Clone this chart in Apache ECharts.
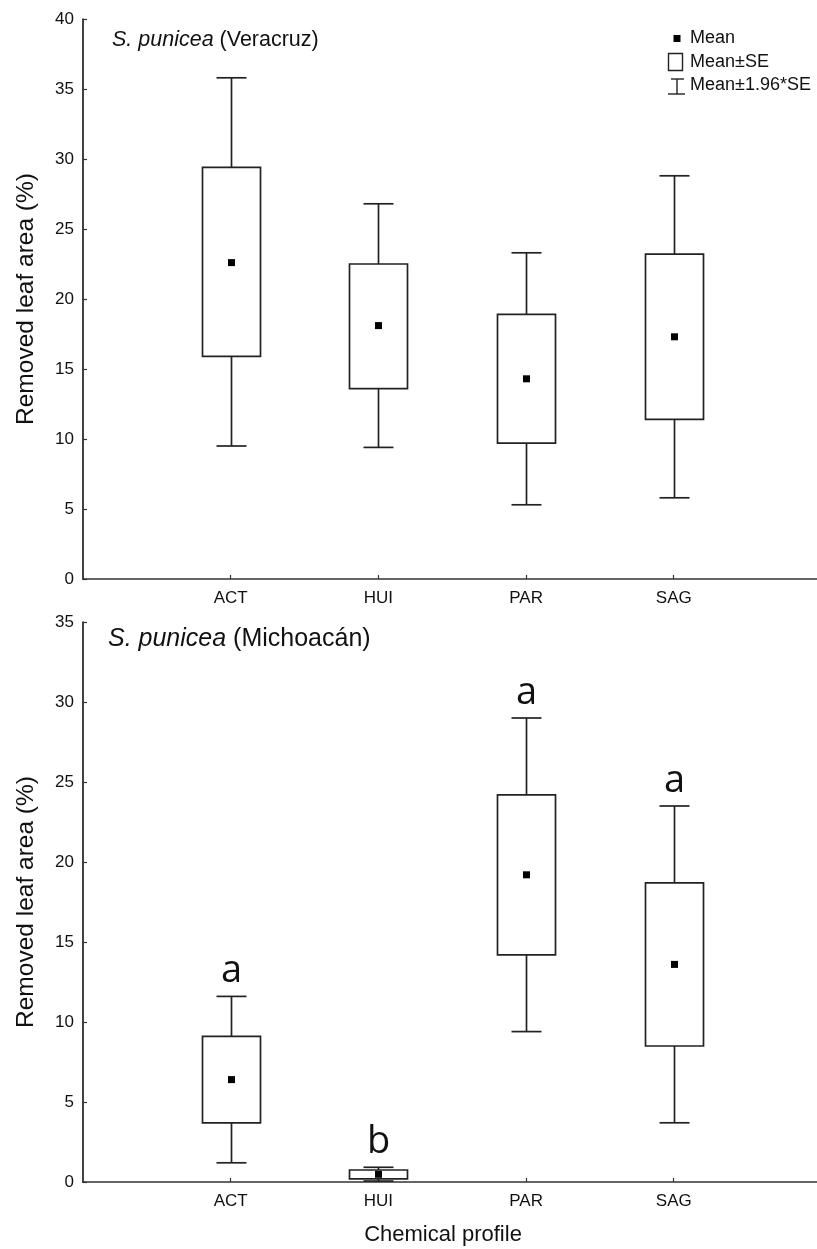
<!DOCTYPE html>
<html>
<head>
<meta charset="utf-8">
<script src="https://cdn.jsdelivr.net/npm/echarts@6/dist/echarts.min.js"></script>
<style>html,body{margin:0;padding:0;background:#fff;}#c{width:817px;height:1249px;}</style>
</head>
<body>
<div id="c"></div>
<script>
const categories = ['ACT', 'HUI', 'PAR', 'SAG'];
const categoryPositions = [1, 2, 3, 4];
// Veracruz: Mean-1.96SE, Mean-SE, Mean, Mean+SE, Mean+1.96SE
const verLow    = [9.5, 9.4, 5.3, 5.8];
const verSeLow  = [15.9, 13.6, 9.7, 11.4];
const verMean   = [22.6, 18.1, 14.3, 17.3];
const verSeHigh = [29.4, 22.5, 18.9, 23.2];
const verHigh   = [35.8, 26.8, 23.3, 28.8];
// Michoacán
const micLow    = [1.2, 0.06, 9.4, 3.7];
const micSeLow  = [3.7, 0.2, 14.2, 8.5];
const micMean   = [6.4, 0.48, 19.2, 13.6];
const micSeHigh = [9.1, 0.75, 24.2, 18.7];
const micHigh   = [11.6, 0.92, 29.0, 23.5];
const micLetters = ['a', 'b', 'a', 'a'];
const verTicks = [0, 5, 10, 15, 20, 25, 30, 35, 40];
const micTicks = [0, 5, 10, 15, 20, 25, 30, 35];

const FONT = '"Liberation Sans", Arial, sans-serif';
const LINE = '#222';

function buildData(low, seLow, mean, seHigh, high) {
  return categories.map((c, i) => [categoryPositions[i], low[i], seLow[i], mean[i], seHigh[i], high[i]]);
}

function makeRender(letters) {
  return function (params, api) {
    const x = api.value(0);
    const pLow = api.coord([x, api.value(1)]);
    const pSeLow = api.coord([x, api.value(2)]);
    const pMean = api.coord([x, api.value(3)]);
    const pSeHigh = api.coord([x, api.value(4)]);
    const pHigh = api.coord([x, api.value(5)]);
    const cx = Math.round(pMean[0]) + 0.5;
    const boxW = 58, capW = 30, m = 7;
    const ls = { stroke: LINE, lineWidth: 1.7, fill: null };
    const children = [
      { type: 'line', shape: { x1: cx, y1: pHigh[1], x2: cx, y2: pSeHigh[1] }, style: ls },
      { type: 'line', shape: { x1: cx, y1: pSeLow[1], x2: cx, y2: pLow[1] }, style: ls },
      { type: 'line', shape: { x1: cx - capW / 2, y1: pHigh[1], x2: cx + capW / 2, y2: pHigh[1] }, style: ls },
      { type: 'line', shape: { x1: cx - capW / 2, y1: pLow[1], x2: cx + capW / 2, y2: pLow[1] }, style: ls },
      { type: 'rect', shape: { x: cx - boxW / 2, y: pSeHigh[1], width: boxW, height: pSeLow[1] - pSeHigh[1] }, style: { stroke: LINE, lineWidth: 1.7, fill: '#fff' } },
      { type: 'rect', shape: { x: cx - m / 2, y: pMean[1] - m / 2, width: m, height: m }, style: { fill: '#000' } }
    ];
    if (letters) {
      children.push({
        type: 'text',
        style: {
          text: letters[params.dataIndex], x: cx, y: pHigh[1] - 6,
          align: 'center', verticalAlign: 'bottom',
          fontSize: 38, fontFamily: '"Open Sans", sans-serif', fill: '#111'
        }
      });
    }
    return { type: 'group', children: children };
  };
}

function xAxis(gridIndex, name) {
  return {
    type: 'value', gridIndex: gridIndex, min: 0, max: 4.97,
    name: name || '', nameLocation: 'middle', nameGap: 42,
    nameTextStyle: { fontSize: 22, color: '#111', fontFamily: FONT, padding: [0, 14, 0, 0] },
    axisLine: { show: true, lineStyle: { color: '#333', width: 1.7 } },
    axisTick: { show: true, inside: true, length: 4, customValues: categoryPositions, lineStyle: { color: '#333', width: 1.2 } },
    axisLabel: { margin: 11, fontSize: 17, color: '#111', fontFamily: FONT, customValues: categoryPositions,
      formatter: v => categories[categoryPositions.indexOf(v)] || '' },
    splitLine: { show: false }
  };
}

function yAxis(gridIndex, ticks) {
  return {
    type: 'value', gridIndex: gridIndex, min: ticks[0], max: ticks[ticks.length - 1], interval: ticks[1] - ticks[0],
    name: 'Removed leaf area (%)', nameLocation: 'middle', nameGap: 44,
    nameTextStyle: { fontSize: 24.5, color: '#111', fontFamily: FONT },
    axisLine: { show: true, lineStyle: { color: '#222', width: 1.7 } },
    axisTick: { show: true, inside: true, length: 4, lineStyle: { color: '#333', width: 1.2 } },
    axisLabel: { margin: 9, fontSize: 17, color: '#111', fontFamily: FONT },
    splitLine: { show: false }
  };
}

const chart = echarts.init(document.getElementById('c'), null, { renderer: 'canvas' });
chart.setOption({
  backgroundColor: '#fff',
  animation: false,
  title: [
    { text: '{i|S. punicea} (Veracruz)', left: 112, top: 29, padding: 0,
      textStyle: { fontSize: 21.5, fontWeight: 'normal', color: '#111', fontFamily: FONT,
        rich: { i: { fontStyle: 'italic', fontSize: 21.5, color: '#111', fontFamily: FONT } } } },
    { text: '{i|S. punicea} (Michoacán)', left: 108, top: 627, padding: 0,
      textStyle: { fontSize: 25, fontWeight: 'normal', color: '#111', fontFamily: FONT,
        rich: { i: { fontStyle: 'italic', fontSize: 25, color: '#111', fontFamily: FONT } } } }
  ],
  grid: [
    { left: 83, top: 19, right: 0, height: 560 },
    { left: 83, top: 622, right: 0, height: 560 }
  ],
  xAxis: [xAxis(0), xAxis(1, 'Chemical profile')],
  yAxis: [yAxis(0, verTicks), yAxis(1, micTicks)],
  series: [
    { type: 'custom', xAxisIndex: 0, yAxisIndex: 0, renderItem: makeRender(null),
      encode: { x: 0, y: [1, 5] }, data: buildData(verLow, verSeLow, verMean, verSeHigh, verHigh) },
    { type: 'custom', xAxisIndex: 1, yAxisIndex: 1, renderItem: makeRender(micLetters),
      encode: { x: 0, y: [1, 5] }, data: buildData(micLow, micSeLow, micMean, micSeHigh, micHigh) }
  ],
  graphic: [
    { type: 'rect', shape: { x: 673.5, y: 35, width: 7, height: 7 }, style: { fill: '#000' } },
    { type: 'text', x: 690, y: 38.5, style: { text: 'Mean', fontSize: 18, fontFamily: FONT, fill: '#111', verticalAlign: 'middle' } },
    { type: 'rect', shape: { x: 668.5, y: 53.5, width: 14, height: 17 }, style: { fill: null, stroke: LINE, lineWidth: 1.4 } },
    { type: 'text', x: 690, y: 62, style: { text: 'Mean±SE', fontSize: 18, fontFamily: FONT, fill: '#111', verticalAlign: 'middle' } },
    { type: 'line', shape: { x1: 677, y1: 79, x2: 677, y2: 94 }, style: { stroke: LINE, lineWidth: 1.4 } },
    { type: 'line', shape: { x1: 671, y1: 79, x2: 684, y2: 79 }, style: { stroke: LINE, lineWidth: 1.4 } },
    { type: 'line', shape: { x1: 668, y1: 94, x2: 685, y2: 94 }, style: { stroke: LINE, lineWidth: 1.4 } },
    { type: 'text', x: 690, y: 85, style: { text: 'Mean±1.96*SE', fontSize: 18, fontFamily: FONT, fill: '#111', verticalAlign: 'middle' } }
  ]
});
</script>
</body>
</html>
